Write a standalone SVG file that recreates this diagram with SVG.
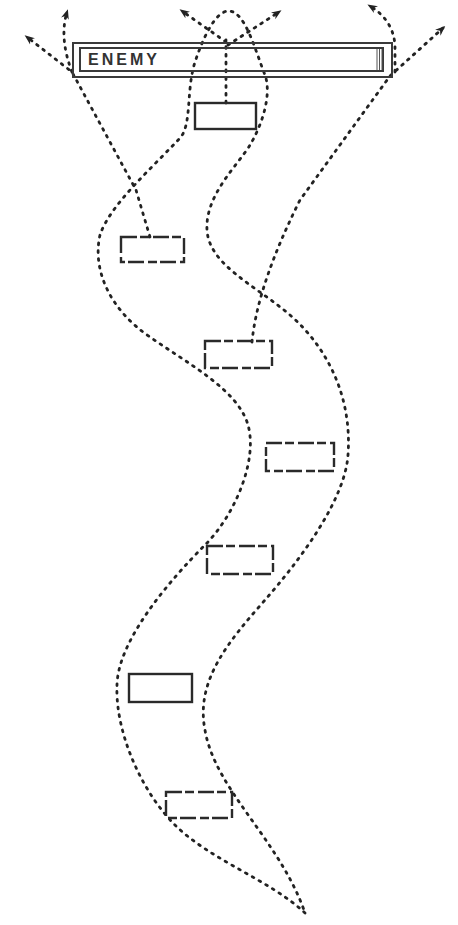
<svg xmlns="http://www.w3.org/2000/svg" width="458" height="925" viewBox="0 0 458 925">
<style>
.route{fill:none;stroke:#222;stroke-width:2.8;stroke-dasharray:1.8 6;stroke-linecap:round;stroke-linejoin:round}
.box{fill:none;stroke:#2a2a2a;stroke-width:2.4}
.broken{stroke-dasharray:16 3 9 4}
.bar{fill:none;stroke:#3a3a3a;stroke-width:2}
.label{font-family:"Liberation Sans",Arial,sans-serif;font-size:16px;font-weight:bold;fill:#333}
</style>
<defs>
<marker id="arr" viewBox="0 0 10 10" refX="7" refY="5" markerWidth="10" markerHeight="10" markerUnits="userSpaceOnUse" orient="auto">
<path d="M0,1 L10,5 L0,9 L3,5 z" fill="#222"/>
</marker>
</defs>
<rect width="458" height="925" fill="#fff"/>

<g id="connectors">
<path class="route" d="M305,913 C270,880 210,860 175,825 C140,790 115,730 117,685 C118,640 170,580 205,545 C235,515 258,460 248,425 C238,390 190,365 150,337 C110,310 92,270 100,235 C110,205 150,170 180,138 C192,125 186,90 195,62 C203,38 215,12 228,11 C245,10 255,50 265,75 C272,95 262,125 250,145 C238,165 205,195 207,230 C209,265 255,285 290,315 C330,350 352,400 348,455 C345,500 300,560 265,600 C230,640 195,680 205,730 C215,790 280,840 305,913"/>
<path class="route" marker-end="url(#arr)" d="M150,237 L136,190 L72,72 L27,37"/>
<path class="route" marker-end="url(#arr)" d="M72,72 Q59,38 67,12"/>
<path class="route" marker-end="url(#arr)" d="M252,342 C256,300 275,250 300,200 L390,76 L443,28"/>
<path class="route" marker-end="url(#arr)" d="M395,72 L395,45 Q393,20 370,6"/>
<path class="route" d="M226,103 L226,40"/>
<path class="route" marker-end="url(#arr)" d="M226,42 L182,11"/>
<path class="route" marker-end="url(#arr)" d="M228,45 L279,12"/>
</g>

<g id="enemy">
<rect class="bar" x="73" y="43" width="319" height="34"/>
<rect class="bar" x="80" y="48" width="303" height="23" stroke-width="1.5"/>
<path d="M377,49 V70 M379.5,49 V70 M382,49 V70" stroke="#555" stroke-width="1"/>
<text class="label" x="88" y="65" textLength="69" lengthAdjust="spacing">ENEMY</text>
</g>

<g id="box1"><rect class="box" x="195" y="103" width="61" height="26"/></g>
<g id="box2"><rect class="box broken" x="121" y="237" width="63" height="25"/></g>
<g id="box3"><rect class="box broken" x="205" y="341" width="67" height="27"/></g>
<g id="box4"><rect class="box broken" x="266" y="443" width="68" height="28"/></g>
<g id="box5"><rect class="box broken" x="207" y="546" width="66" height="28"/></g>
<g id="box6"><rect class="box" x="129" y="674" width="63" height="28"/></g>
<g id="box7"><rect class="box broken" x="166" y="792" width="66" height="26"/></g>
</svg>
